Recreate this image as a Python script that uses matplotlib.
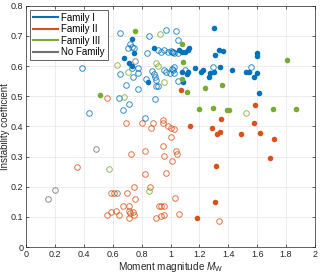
import numpy as np
import matplotlib
matplotlib.use('Agg')
import matplotlib.pyplot as plt

plt.rcParams['font.family'] = ['Liberation Sans', 'DejaVu Sans']
plt.rcParams['mathtext.fontset'] = 'custom'
plt.rcParams['mathtext.it'] = 'Liberation Sans:italic'
plt.rcParams['mathtext.rm'] = 'Liberation Sans'

# Family I (blue)
fam1_filled_x = [0.734, 0.748, 0.884, 0.677, 0.711, 0.732, 0.841, 1.302, 1.076, 1.099, 1.122, 1.129,
                 1.307, 1.337, 1.364, 1.076, 1.122, 1.115, 1.168, 1.210, 1.226, 1.272, 1.267, 1.302,
                 1.341, 1.427, 1.521, 1.544, 1.087, 1.598, 1.598, 1.600, 1.579, 1.614, 1.060]
fam1_filled_y = [0.690, 0.642, 0.661, 0.626, 0.612, 0.600, 0.548, 0.727, 0.648, 0.646, 0.653, 0.659,
                 0.637, 0.653, 0.651, 0.581, 0.581, 0.573, 0.595, 0.581, 0.587, 0.576, 0.563, 0.581,
                 0.596, 0.588, 0.581, 0.581, 0.546, 0.642, 0.635, 0.576, 0.563, 0.512, 0.652]
fam1_open_x = [0.386, 0.436, 0.651, 0.852, 0.965, 0.716, 0.704, 0.734, 0.750, 0.836,
               0.912, 0.935, 0.958, 0.981, 1.000, 1.018,
               0.774, 0.647, 0.735, 0.739, 0.774, 0.690, 0.774, 0.827, 0.873, 0.882, 0.893, 0.900,
               0.900, 0.912, 0.958, 0.970, 1.009, 0.996,
               0.644, 0.713, 0.672, 0.893, 0.824,
               1.037, 1.053, 1.007, 1.027, 1.051, 1.023, 1.018, 1.023, 1.099, 1.053, 1.291, 1.556]
fam1_open_y = [0.595, 0.445, 0.709, 0.701, 0.720, 0.672, 0.661, 0.663, 0.659, 0.644,
               0.653, 0.648, 0.653, 0.648, 0.651, 0.648,
               0.593, 0.575, 0.594, 0.565, 0.576, 0.537, 0.523, 0.556, 0.584, 0.575, 0.565, 0.554,
               0.535, 0.535, 0.586, 0.579, 0.589, 0.576,
               0.495, 0.475, 0.453, 0.491, 0.427,
               0.718, 0.685, 0.648, 0.642, 0.642, 0.598, 0.587, 0.576, 0.587, 0.550, 0.596, 0.596]

# Family II (orange)
fam2_filled_x = [1.071, 1.348, 1.134, 1.288, 1.582, 1.575, 1.325, 1.341, 1.489, 1.618, 1.720,
                 1.690, 1.318, 1.307, 1.184]
fam2_filled_y = [0.521, 0.424, 0.400, 0.395, 0.471, 0.413, 0.375, 0.380, 0.375, 0.379, 0.358,
                 0.296, 0.270, 0.148, 0.095]
fam2_open_x = [0.559, 0.690, 0.799, 0.875, 0.945, 0.945, 0.983, 1.000, 1.023, 1.005, 0.866,
               1.037, 1.044, 1.012, 0.954, 0.951, 0.965, 1.030, 1.057, 1.334,
               0.349, 0.727, 0.822, 0.825, 0.744, 0.859, 0.589, 0.605, 0.697, 0.751, 0.672, 0.712,
               0.917, 0.935, 0.954,
               0.561, 0.589, 0.623, 0.644, 0.709, 0.720, 0.739, 0.744, 0.713, 0.900, 0.931, 0.958]
fam2_open_y = [0.495, 0.410, 0.413, 0.410, 0.421, 0.410, 0.400, 0.395, 0.391, 0.366, 0.394,
               0.319, 0.307, 0.286, 0.301, 0.336, 0.246, 0.164, 0.110, 0.088,
               0.265, 0.307, 0.317, 0.243, 0.200, 0.200, 0.180, 0.180, 0.180, 0.159, 0.136, 0.136,
               0.137, 0.137, 0.137,
               0.108, 0.117, 0.119, 0.108, 0.119, 0.112, 0.115, 0.105, 0.097, 0.095, 0.104, 0.108]

# Family III (green)
fam3_filled_x = [0.755, 0.508, 1.076, 1.087, 1.076, 1.115, 1.240, 1.357, 1.198, 1.291, 1.392,
                 1.404, 1.805, 1.713, 1.868]
fam3_filled_y = [0.718, 0.504, 0.672, 0.614, 0.557, 0.515, 0.528, 0.539, 0.458, 0.460, 0.454,
                 0.456, 0.619, 0.457, 0.457]
fam3_open_x = [0.508, 0.928, 0.630, 0.704, 0.900, 0.912, 0.954, 0.677, 0.573, 0.848, 1.522]
fam3_open_y = [0.716, 0.707, 0.604, 0.581, 0.612, 0.599, 0.546, 0.498, 0.259, 0.186, 0.446]

# No family (grey)
nofam_x = [0.152, 0.199, 0.483, 0.626, 0.751]
nofam_y = [0.159, 0.190, 0.325, 0.178, 0.617]

c1 = '#0072BD'
c2 = '#D95319'
c3 = '#77AC30'
c4 = '#707070'

fig = plt.figure(figsize=(3.2, 2.77), dpi=100)
ax = fig.add_axes([0.082, 0.108, 0.902, 0.871])

ms = 4.0
mew = 0.7
ax.plot(fam2_open_x, fam2_open_y, 'o', mfc='none', mec=c2, ms=ms, mew=mew, alpha=0.8)
ax.plot(fam1_open_x, fam1_open_y, 'o', mfc='none', mec=c1, ms=ms, mew=mew, alpha=0.8)
ax.plot(fam3_open_x, fam3_open_y, 'o', mfc='none', mec=c3, ms=ms, mew=mew, alpha=0.8)
ax.plot(nofam_x, nofam_y, 'o', mfc='none', mec=c4, ms=ms, mew=mew, alpha=0.8)
ax.plot(fam1_filled_x, fam1_filled_y, 'o', color=c1, ms=ms, mew=0)
ax.plot(fam2_filled_x, fam2_filled_y, 'o', color=c2, ms=ms, mew=0)
ax.plot(fam3_filled_x, fam3_filled_y, 'o', color=c3, ms=ms, mew=0)

# legend entries are lines only
ax.plot([], [], '-', color=c1, lw=1.5, label='Family I')
ax.plot([], [], '-', color=c2, lw=1.5, label='Family II')
ax.plot([], [], '-', color=c3, lw=1.5, label='Family III')
ax.plot([], [], '-', color=c4, lw=1.5, label='No Family')
leg = ax.legend(loc='upper left', fontsize=7, handlelength=2.6, handletextpad=0.3,
                labelspacing=0.15, borderpad=0.3, fancybox=False, framealpha=1,
                edgecolor='#262626', borderaxespad=0.4)
leg.get_frame().set_linewidth(0.5)

ax.set_xlim(0, 2)
ax.set_ylim(0, 0.8)
ax.set_xticks(np.arange(0, 2.01, 0.2))
ax.set_yticks(np.arange(0, 0.81, 0.1))
ax.set_xticklabels(['0', '0.2', '0.4', '0.6', '0.8', '1', '1.2', '1.4', '1.6', '1.8', '2'])
ax.set_yticklabels(['0', '0.1', '0.2', '0.3', '0.4', '0.5', '0.6', '0.7', '0.8'])
ax.tick_params(direction='in', length=2.5, width=0.5, labelsize=6.5, colors='#262626',
               top=True, right=True, pad=2)
ax.grid(True, color='#e6e6e6', lw=0.5)
ax.set_axisbelow(True)
for s in ax.spines.values():
    s.set_linewidth(0.5)
    s.set_color('#262626')

ax.set_xlabel(r'Moment magnitude $M_{\mathrm{W}}$', fontsize=7.2, color='#262626', labelpad=1)
ax.set_ylabel('Instability coefficient', fontsize=7, color='#262626')
ax.yaxis.set_label_coords(-0.056, 0.5)

fig.savefig('out.png', dpi=100)
